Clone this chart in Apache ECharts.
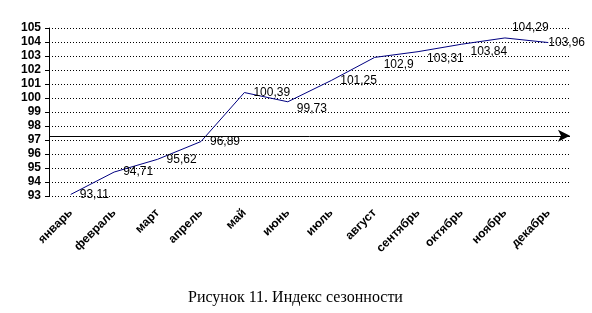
<!DOCTYPE html>
<html>
<head>
<meta charset="utf-8">
<script src="https://cdn.jsdelivr.net/npm/echarts@6/dist/echarts.min.js"></script>
<style>
  html, body { margin: 0; padding: 0; background: #fff; }
  #chart { width: 592px; height: 313px; }
</style>
</head>
<body>
<div id="chart"></div>
<script>
// месяцы и индекс сезонности
var months = ["январь", "февраль", "март", "апрель", "май", "июнь", "июль", "август", "сентябрь", "октябрь", "ноябрь", "декабрь"];
var seasonIndex = [93.11, 94.71, 95.62, 96.89, 100.39, 99.73, 101.25, 102.9, 103.31, 103.84, 104.29, 103.96];
var arrowLevel = 97.3;
var caption = "Рисунок 11. Индекс сезонности";

// подписи ниже точки у июня, августа, сентября, октября; выше у ноября
var below = { 5: 1, 7: 1, 8: 1, 9: 1 };
var above = { 10: 1 };

var points = seasonIndex.map(function (v, i) {
  var item = { value: v };
  if (below[i]) item.label = { offset: [0, 7] };
  if (above[i]) item.label = { offset: [-2, -10] };
  if (i === seasonIndex.length - 1) item.label = { offset: [-9, 0] };
  return item;
});

var chart = echarts.init(document.getElementById("chart"));
var option = {
  animation: false,
  backgroundColor: "#fff",
  title: {
    text: caption,
    left: 183,
    top: 285,
    textStyle: { fontFamily: "Liberation Serif", fontWeight: "normal", fontSize: 16, color: "#000" }
  },
  grid: { left: 49, right: 22, top: 28, bottom: 117 },
  xAxis: {
    type: "category",
    boundaryGap: true,
    data: months,
    axisLine: { show: false },
    axisTick: { show: false },
    axisLabel: {
      rotate: 45,
      interval: 0,
      margin: 15,
      fontFamily: "Arial",
      fontWeight: "bold",
      fontSize: 12,
      color: "#000"
    },
    splitLine: { show: false }
  },
  yAxis: {
    type: "value",
    min: 93,
    max: 105,
    interval: 1,
    axisLine: { show: true, lineStyle: { color: "#000", width: 1 } },
    axisTick: { show: true, length: 4, lineStyle: { color: "#000" } },
    axisLabel: {
      margin: 8,
      fontFamily: "Arial",
      fontWeight: "bold",
      fontSize: 12,
      color: "#000"
    },
    splitLine: { show: true, lineStyle: { color: "#000", type: [1, 2], width: 1 } }
  },
  series: [{
    type: "line",
    data: points,
    showSymbol: true,
    symbol: "circle",
    symbolSize: 0,
    lineStyle: { color: "#000080", width: 1 },
    label: {
      show: true,
      position: "right",
      distance: 9,
      fontFamily: "Arial",
      fontSize: 12,
      color: "#000",
      formatter: function (p) { return String(p.value).replace(".", ","); }
    },
    markLine: {
      silent: true,
      symbol: ["none", "arrow"],
      symbolSize: [9, 12],
      label: { show: false },
      lineStyle: { color: "#000", type: "solid", width: 1 },
      data: [{ yAxis: arrowLevel }]
    }
  }]
};
chart.setOption(option);
</script>
</body>
</html>
